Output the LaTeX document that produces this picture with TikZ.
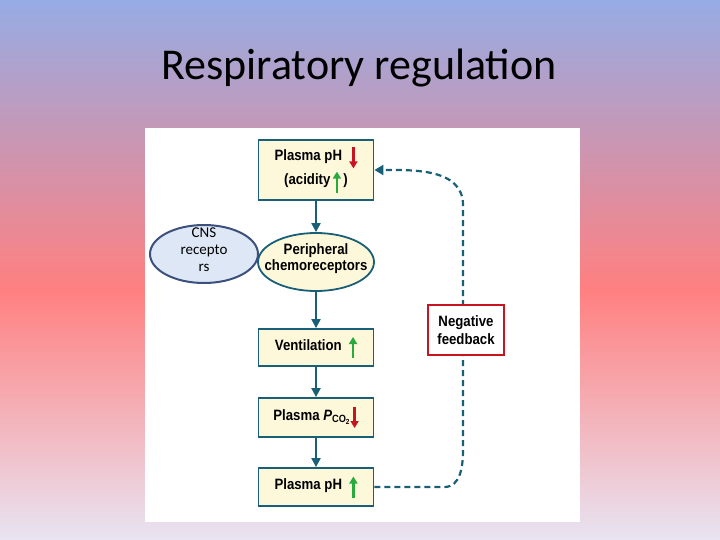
\documentclass[tikz,border=0pt]{standalone}
\usepackage{fontspec}
\setmainfont{Liberation Sans}
\newfontfamily\titlefont{Carlito}
\newfontfamily\boxfont{Liberation Sans}[FakeStretch=0.88]
\usetikzlibrary{shapes.geometric,arrows.meta,positioning,calc}
\definecolor{boxdraw}{RGB}{25,95,120}
\definecolor{cream}{RGB}{253,248,218}
\definecolor{bgtop}{RGB}{150,172,228}
\definecolor{bgmid}{RGB}{255,128,128}
\definecolor{bgbot}{RGB}{232,228,242}
\definecolor{cnsfill}{RGB}{222,231,245}
\definecolor{cnsdraw}{RGB}{60,80,125}
\definecolor{arrred}{RGB}{200,20,30}
\definecolor{arrgreen}{RGB}{40,170,60}
\tikzset{
  stage/.style = {draw=boxdraw, line width=1.8pt, fill=cream, minimum width=115pt, font=\boxfont\fontsize{15}{18}\selectfont\bfseries, align=center},
  recep/.style = {draw=boxdraw, line width=1.8pt, fill=cream, ellipse, minimum width=116pt, minimum height=58pt, inner sep=0pt, font=\boxfont\fontsize{15}{18}\selectfont\bfseries},
  Arrow/.style = {-{Triangle[length=9pt,width=9pt]}, draw=boxdraw, line width=2pt},
  Dash/.style = {-{Triangle[length=9pt,width=10pt]}, draw=boxdraw, line width=2.2pt, dash pattern=on 6pt off 4pt}
}
\newcommand{\upar}{\tikz[baseline=-1pt]\draw[arrgreen, line width=2.2pt, -{Triangle[length=7pt,width=8pt]}] (0,-9pt) -- (0,12pt);}
\newcommand{\dnar}{\tikz[baseline=-1pt]\draw[arrred, line width=2.2pt, -{Triangle[length=7pt,width=8pt]}] (0,12pt) -- (0,-9pt);}
\begin{document}
\begin{tikzpicture}[x=1pt,y=-1pt]
  \useasboundingbox (0,0) rectangle (720,540);
  \shade[top color=bgtop, bottom color=bgmid] (0,0) rectangle (720,290);
  \shade[top color=bgmid, bottom color=bgbot] (0,290) rectangle (720,540);
  \node (title) at (359,68) {\titlefont\fontsize{44}{48}\selectfont Respiratory regulation};
  \fill[white] (145,128) rectangle (580,522);
  %%%%% Main chain %%%%%
  \node (acid) [stage, minimum height=60pt] at (316,170) {Plasma pH\ \ \dnar\\(acidity\,\upar\,)\hspace{18pt}};
  \node (peri) [recep] at (316,262) {\smash{\makebox[0pt]{\begin{tabular}{@{}c@{}}Peripheral\\[-2pt]chemoreceptors\end{tabular}}}};
  \node (vent) [stage, minimum height=37pt] at (316,347.5) {Ventilation\ \ \upar};
  \node (pco) [stage, minimum height=39pt] at (316,417.5) {Plasma \textit{P}\textsubscript{CO\textsubscript{2}}\dnar};
  \node (ph) [stage, minimum height=38pt] at (316,487) {Plasma pH\ \ \upar};
  \draw [Arrow] (acid) -- (peri);
  \draw [Arrow] (peri) -- (vent);
  \draw [Arrow] (vent) -- (pco);
  \draw [Arrow] (pco) -- (ph);
  %%%%% Feedback loop %%%%%
  \draw [Dash] (ph.east) -- ++(70,0) to[out=0,in=-90] (463,450) -- (463,205) to[out=90,in=0] (acid.east);
  \node (neg) [draw=arrred, line width=1.8pt, fill=white, minimum width=76pt, minimum height=50pt, inner sep=1pt, font=\boxfont\fontsize{15}{18}\selectfont\bfseries, align=center] at (466,330) {Negative\\feedback};
  %%%%% CNS %%%%%
  \node (cns) [ellipse, draw=cnsdraw, line width=2pt, fill=cnsfill, minimum width=108pt, minimum height=58pt, inner sep=0pt, font=\titlefont\fontsize{15}{20}\selectfont] at (204,254) {\smash{\makebox[0pt]{\begin{tabular}{@{}c@{}}CNS\\[-3pt]recepto\\[-3pt]rs\end{tabular}}}};
\end{tikzpicture}
\end{document}
